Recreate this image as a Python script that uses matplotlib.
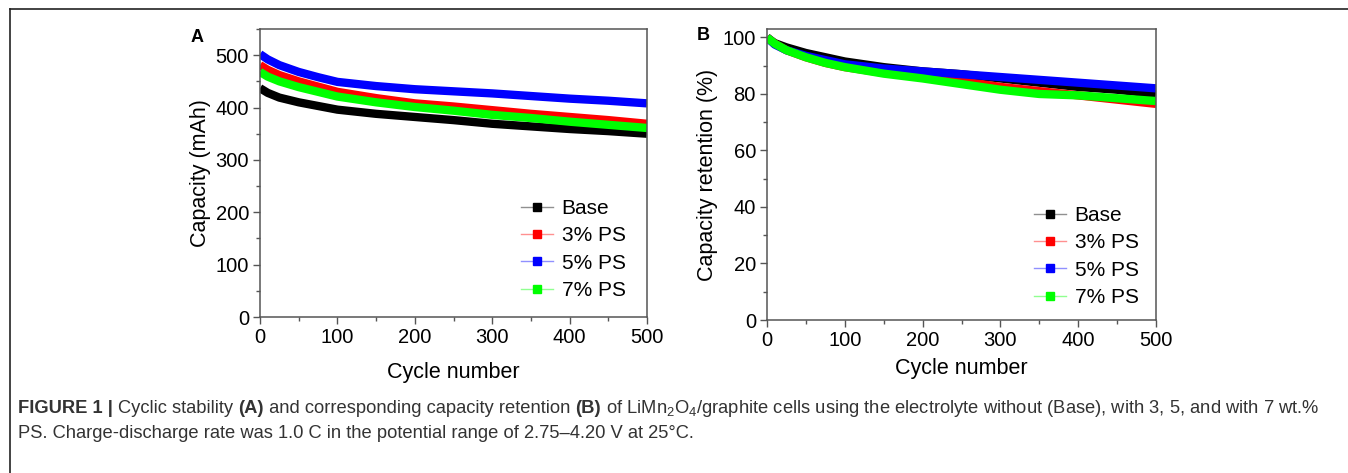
import matplotlib
matplotlib.use("Agg")
import matplotlib.pyplot as plt
from matplotlib.lines import Line2D
from matplotlib.ticker import MultipleLocator
from matplotlib import font_manager

plt.rcParams['font.family'] = ['Liberation Sans', 'DejaVu Sans']
plt.rcParams['mathtext.fontset'] = 'custom'
plt.rcParams['mathtext.rm'] = 'Liberation Sans'

# ---------------- data ----------------
cycles = [0, 10, 25, 50, 75, 100, 150, 200, 250, 300, 350, 400, 450, 500]

labels = ['Base', '3% PS', '5% PS', '7% PS']
colors = ['#000000', '#ff0000', '#0000ff', '#00ff00']
light = ['#909090', '#ff9090', '#9090ff', '#90ff90']

# panel A: capacity (mAh)
cap_base = [437, 428, 419, 410, 403, 396, 388, 382, 376, 369, 364, 359, 355, 350]
cap_3ps = [481, 472, 462, 450, 440, 430, 418, 408, 402, 395, 388, 382, 376, 369]
cap_5ps = [502, 492, 481, 468, 458, 449, 441, 435, 431, 427, 422, 417, 413, 408]
cap_7ps = [468, 459, 450, 439, 430, 421, 410, 401, 394, 386, 380, 373, 367, 361]

# panel B: capacity retention (%)
ret_base = [100, 98.0, 96.5, 94.5, 93.0, 91.5, 89.5, 88.0, 87.0, 85.5, 84.0, 82.5, 81.5, 80.0]
ret_3ps = [100, 97.8, 95.5, 93.0, 91.0, 89.5, 87.5, 86.0, 84.5, 82.5, 81.0, 79.5, 78.0, 76.5]
ret_5ps = [100, 97.5, 95.5, 93.5, 92.0, 90.5, 89.0, 88.0, 87.0, 86.0, 85.0, 84.0, 83.0, 82.0]
ret_7ps = [100, 97.8, 95.5, 93.0, 91.0, 89.5, 87.2, 85.5, 83.5, 81.5, 80.0, 79.5, 78.5, 77.5]

cap_all = [cap_base, cap_3ps, cap_5ps, cap_7ps]
ret_all = [ret_base, ret_3ps, ret_5ps, ret_7ps]

W, H = 1348, 473
fig = plt.figure(figsize=(W / 100, H / 100), dpi=100)

# frame lines (top and left)
fig.add_artist(Line2D([10 / W, 1], [1 - 9 / H, 1 - 9 / H], color='#222222', lw=1.2))
fig.add_artist(Line2D([10 / W, 10 / W], [0, 1 - 9 / H], color='#222222', lw=1.2))

TICK_FS = 14.5
LABEL_FS = 15.5
LEG_FS = 15


def style_axes(ax):
    for s in ax.spines.values():
        s.set_color('#555555')
        s.set_linewidth(1.1)
    ax.tick_params(which='both', direction='out', color='#555555', top=False, right=False)
    ax.tick_params(which='major', length=5, width=1.0, labelsize=TICK_FS, pad=3)
    ax.tick_params(which='minor', length=3, width=1.0)


def legend_handles():
    return [Line2D([0], [0], color=light[i], lw=1, marker='s', markersize=6,
                   markerfacecolor=colors[i], markeredgecolor=colors[i])
            for i in range(4)]


def add_legend(ax, x0, ytop):
    ax.legend(legend_handles(), labels, loc='upper left', bbox_to_anchor=(x0 / W, 1 - ytop / H),
              bbox_transform=fig.transFigure, frameon=False, fontsize=LEG_FS, handlelength=1.55,
              handletextpad=0.4, labelspacing=0.40, borderpad=0, borderaxespad=0)


# ---------------- panel A ----------------
axA = fig.add_axes([260 / W, 1 - 317 / H, 387 / W, 288 / H])
for i in range(4):
    axA.plot(cycles, cap_all[i], color=colors[i], lw=6, solid_capstyle='butt')
axA.set_xlim(0, 500)
axA.set_ylim(0, 550)
axA.xaxis.set_major_locator(MultipleLocator(100))
axA.xaxis.set_minor_locator(MultipleLocator(50))
axA.yaxis.set_major_locator(MultipleLocator(100))
axA.yaxis.set_minor_locator(MultipleLocator(50))
style_axes(axA)
axA.set_xlabel('Cycle number', fontsize=LABEL_FS, labelpad=11)
axA.set_ylabel('Capacity (mAh)', fontsize=LABEL_FS, labelpad=3)
add_legend(axA, 521, 199)
fig.text(191 / W, 1 - 37 / H, 'A', fontsize=13, fontweight='bold', va='center')

# ---------------- panel B ----------------
axB = fig.add_axes([767 / W, 1 - 320 / H, 389 / W, 291 / H])
for i in range(4):
    axB.plot(cycles, ret_all[i], color=colors[i], lw=6, solid_capstyle='butt')
axB.set_xlim(0, 500)
axB.set_ylim(0, 103)
axB.xaxis.set_major_locator(MultipleLocator(100))
axB.xaxis.set_minor_locator(MultipleLocator(50))
axB.yaxis.set_major_locator(MultipleLocator(20))
axB.yaxis.set_minor_locator(MultipleLocator(10))
style_axes(axB)
axB.set_xlabel('Cycle number', fontsize=LABEL_FS, labelpad=6)
axB.set_ylabel('Capacity retention (%)', fontsize=LABEL_FS, labelpad=3)
add_legend(axB, 1034, 206)
fig.text(697 / W, 1 - 36 / H, 'B', fontsize=13, fontweight='bold', va='center')

# ---------------- caption ----------------
cap_family = ['Liberation Sans', 'DejaVu Sans']
try:
    font_manager.findfont(font_manager.FontProperties(family='Liberation Sans Narrow'),
                          fallback_to_default=False)
    cap_family = ['Liberation Sans Narrow', 'Liberation Sans', 'DejaVu Sans']
except Exception:
    pass

cap_color = '#333333'
line1 = [('FIGURE 1 | ', 'bold'), ('Cyclic stability ', 'normal'), ('(A)', 'bold'),
         (' and corresponding capacity retention ', 'normal'), ('(B)', 'bold'),
         (' of LiMn$_2$O$_4$/graphite cells using the electrolyte without (Base), with 3, 5, and with 7 wt.%', 'normal')]
line2 = 'PS. Charge-discharge rate was 1.0 C in the potential range of 2.75\u20134.20 V at 25\u00b0C.'

fig.canvas.draw()
renderer = fig.canvas.get_renderer()

# measure caption line 1 width at a trial size, then scale to the reference width
trial = 11
total = 0
for txt, wt in line1:
    t = fig.text(0, 0, txt, fontsize=trial, fontweight=wt, family=cap_family)
    total += t.get_window_extent(renderer).width
    t.remove()
cap_fs = trial * 1300 / total

x = 18
y1 = 1 - 408 / H
for txt, wt in line1:
    t = fig.text(x / W, y1, txt, fontsize=cap_fs, fontweight=wt, color=cap_color,
                 va='center', family=cap_family)
    x += t.get_window_extent(renderer).width
fig.text(18 / W, 1 - 434 / H, line2, fontsize=cap_fs, color=cap_color, va='center',
         family=cap_family)

fig.savefig('out.png', dpi=100)
